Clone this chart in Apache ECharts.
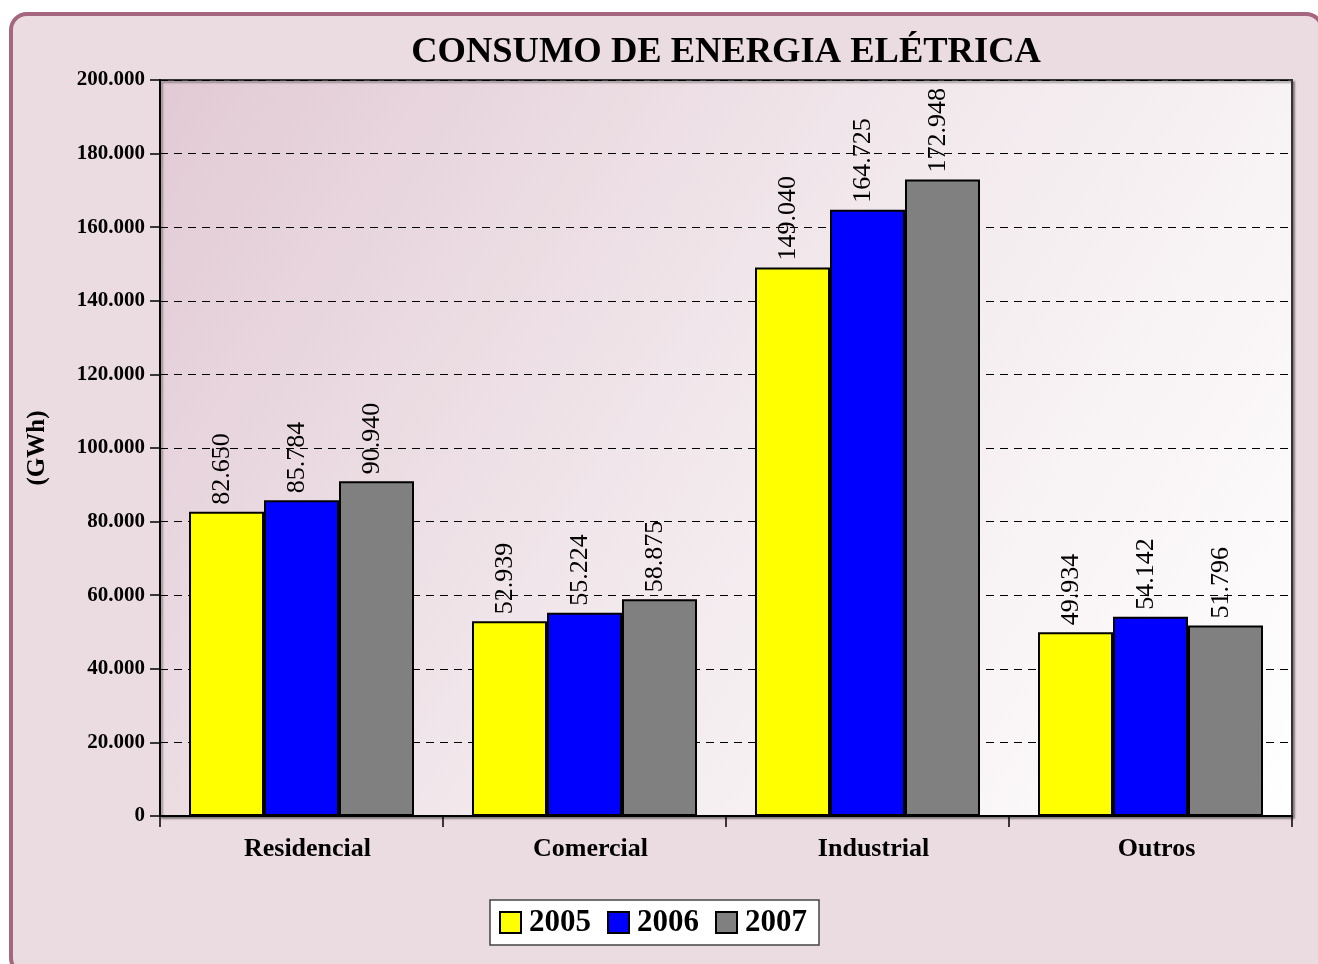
<!DOCTYPE html>
<html>
<head>
<meta charset="utf-8">
<script src="https://cdn.jsdelivr.net/npm/echarts@6/dist/echarts.min.js"></script>
<style>
  html, body { margin: 0; padding: 0; background: #fff; }
  #chart { width: 1318px; height: 964px; }
</style>
</head>
<body>
<div id="chart"></div>
<script>
  const categories = ['Residencial', 'Comercial', 'Industrial', 'Outros'];
  const years = ['2005', '2006', '2007'];
  const values2005 = [82650, 52939, 149040, 49934];
  const values2006 = [85784, 55224, 164725, 54142];
  const values2007 = [90940, 58875, 172948, 51796];
  const colors = ['#ffff00', '#0000ff', '#808080'];

  const serif = '"Liberation Serif", "DejaVu Serif", serif';

  // 12345 -> "12.345"
  function fmt(v) {
    return String(Math.round(v)).replace(/\B(?=(\d{3})+(?!\d))/g, '.');
  }

  const seriesData = [values2005, values2006, values2007];

  const option = {
    animation: false,
    graphic: [
      {
        type: 'rect',
        z: -10,
        shape: { x: 11, y: 14, width: 1311, height: 960, r: 16 },
        style: { fill: '#ebdce1', stroke: '#a5667f', lineWidth: 4 },
      },
    ],
    title: {
      text: 'CONSUMO DE ENERGIA ELÉTRICA',
      left: 721,
      top: 29,
      textAlign: 'center',
      textStyle: { fontFamily: serif, fontWeight: 'bold', fontSize: 36.5, color: '#000' },
    },
    legend: {
      data: years,
      left: 490,
      top: 900,
      icon: 'rect',
      backgroundColor: '#fff',
      borderColor: '#444',
      borderWidth: 1.5,
      borderRadius: 0,
      padding: [7, 12, 7, 9],
      itemWidth: 21,
      itemHeight: 21,
      itemGap: 16,
      textStyle: { fontFamily: serif, fontWeight: 'bold', fontSize: 31, color: '#000', padding: [0, 0, 0, 3] },
    },
    grid: {
      left: 160,
      right: 26,
      top: 80,
      bottom: 148,
      show: true,
      borderColor: '#333',
      borderWidth: 2,
      backgroundColor: new echarts.graphic.LinearGradient(0, 0, 1, 1, [
        { offset: 0, color: '#e2cad4' },
        { offset: 0.5, color: '#f2e9ed' },
        { offset: 1, color: '#ffffff' },
      ]),
      shadowColor: 'rgba(0,0,0,0.35)',
      shadowOffsetX: 2,
      shadowOffsetY: 2,
      shadowBlur: 2,
    },
    xAxis: {
      type: 'category',
      data: categories,
      axisLine: { lineStyle: { color: '#000', width: 2 } },
      axisTick: { show: true, length: 11, lineStyle: { color: '#000', width: 1.5 } },
      axisLabel: {
        fontFamily: serif,
        fontWeight: 'bold',
        fontSize: 26,
        color: '#000',
        margin: 20,
        padding: [0, 0, 0, 12],
      },
    },
    yAxis: {
      type: 'value',
      min: 0,
      max: 200000,
      interval: 20000,
      name: '(GWh)',
      nameLocation: 'middle',
      nameGap: 110,
      nameRotate: 90,
      nameTextStyle: { fontFamily: serif, fontWeight: 'bold', fontSize: 25, color: '#000' },
      axisLine: { show: true, lineStyle: { color: '#000', width: 2 } },
      axisTick: { show: true, length: 10, lineStyle: { color: '#000', width: 1.5 } },
      axisLabel: {
        fontFamily: serif,
        fontWeight: 'bold',
        fontSize: 21,
        color: '#000',
        margin: 15,
        formatter: (v) => fmt(v),
      },
      splitLine: { show: true, lineStyle: { color: '#000', type: [8, 6], width: 1 } },
    },
    series: years.map((y, i) => ({
      name: y,
      type: 'bar',
      data: seriesData[i],
      barGap: '0%',
      barCategoryGap: '20.5%',
      itemStyle: { color: colors[i], borderColor: '#000', borderWidth: 2 },
      label: {
        show: true,
        position: 'top',
        rotate: 90,
        align: 'left',
        verticalAlign: 'middle',
        distance: 7,
        offset: [0, -4],
        fontFamily: serif,
        fontSize: 26,
        color: '#000',
        formatter: (p) => fmt(p.value),
      },
    })),
  };

  const chart = echarts.init(document.getElementById('chart'));
  chart.setOption(option);
</script>
</body>
</html>
